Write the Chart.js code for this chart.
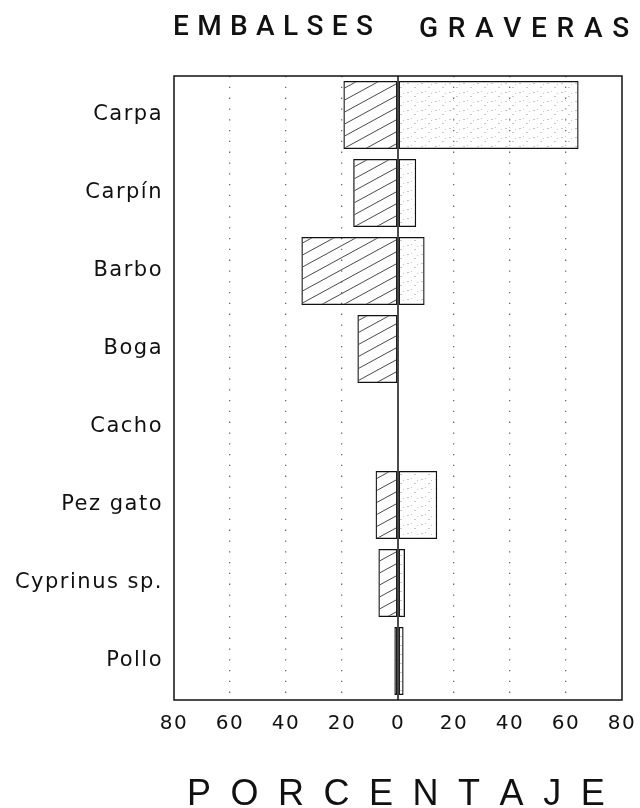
<!DOCTYPE html>
<html>
<head>
<meta charset="utf-8">
<script src="https://cdn.jsdelivr.net/npm/chart.js@4/dist/chart.umd.min.js"></script>
<style>
  body { margin: 0; background: #fff; }
  #wrap { width: 640px; height: 808px; }
</style>
</head>
<body>
<div id="wrap"><canvas id="myChart" width="640" height="808"></canvas></div>
<script>
// data
var especies = ['Carpa', 'Carpín', 'Barbo', 'Boga', 'Cacho', 'Pez gato', 'Cyprinus sp.', 'Pollo'];
var embalses = [-19.5, -16, -34.5, -14.5, -0.3, -8, -7, -1.3];   // left side, %
var graveras = [64.5, 6.5, 9.5, 0, 0.3, 14, 2.5, 2];             // right side, %
var ticksX = [-80, -60, -40, -20, 0, 20, 40, 60, 80];

// hatch "/" for embalses
function hatch() {
  var c = document.createElement('canvas');
  c.width = 22; c.height = 12;
  var g = c.getContext('2d');
  g.strokeStyle = '#333';
  g.lineWidth = 0.9;
  g.beginPath();
  g.moveTo(-22, 24); g.lineTo(22, 0);
  g.moveTo(0, 24); g.lineTo(44, 0);
  g.moveTo(-22, 12); g.lineTo(22, -12);
  g.stroke();
  return g.createPattern(c, 'repeat');
}

// faint stipple for graveras
function stipple() {
  var c = document.createElement('canvas');
  c.width = 14; c.height = 9;
  var g = c.getContext('2d');
  g.fillStyle = '#c8c8c8';
  g.fillRect(1, 2, 2, 1);
  g.fillRect(8, 6, 2, 1);
  g.fillRect(5, 1, 1, 1);
  g.fillRect(11, 3, 1, 1);
  return g.createPattern(c, 'repeat');
}

function spaced(ctx, text, x0, x1, y) {
  var w = ctx.measureText(text).width;
  var gap = (x1 - x0 - w) / (text.length - 1);
  var x = x0;
  ctx.textAlign = 'left';
  for (var i = 0; i < text.length; i++) {
    ctx.fillText(text[i], x, y);
    x += ctx.measureText(text[i]).width + gap;
  }
}

var framePlugin = {
  id: 'frame',
  beforeDraw(chart) {
    chart.ctx.letterSpacing = '1.5px';
  },
  afterDraw(chart) {
    var ctx = chart.ctx, a = chart.chartArea;
    var x0 = chart.scales.x.getPixelForValue(0);
    ctx.save();
    ctx.letterSpacing = '0px';
    ctx.strokeStyle = '#111';
    ctx.lineWidth = 1.5;
    ctx.strokeRect(a.left, a.top, a.right - a.left, a.bottom - a.top);
    ctx.beginPath();
    ctx.moveTo(x0, a.top); ctx.lineTo(x0, a.bottom);
    ctx.stroke();

    ctx.fillStyle = '#111';
    ctx.textBaseline = 'alphabetic';
    ctx.font = '500 28px Roboto, "Liberation Sans", sans-serif';
    spaced(ctx, 'EMBALSES', 173, 373, 35);
    spaced(ctx, 'GRAVERAS', 419, 628, 37);
    ctx.font = '36px "Liberation Sans", sans-serif';
    spaced(ctx, 'PORCENTAJE', 187, 602, 805);
    ctx.restore();
  }
};

var ctx = document.getElementById('myChart');
var myChart = new Chart(ctx, {
  type: 'bar',
  data: {
    labels: especies,
    datasets: [{
      label: 'Embalses',
      data: embalses,
      backgroundColor: hatch(),
      borderColor: '#111',
      borderWidth: 1.3,
      borderSkipped: false
    }, {
      label: 'Graveras',
      data: graveras,
      backgroundColor: stipple(),
      borderColor: '#111',
      borderWidth: 1.3,
      borderSkipped: false
    }]
  },
  options: {
    indexAxis: 'y',
    responsive: false,
    animation: false,
    categoryPercentage: 1,
    barPercentage: 0.87,
    layout: { padding: { top: 76, right: 18, left: 0, bottom: 0 } },
    plugins: { legend: { display: false }, tooltip: { enabled: false } },
    scales: {
      x: {
        stacked: true,
        min: -80, max: 80,
        afterBuildTicks(scale) { scale.ticks = ticksX.map(function (v) { return { value: v }; }); },
        afterFit(scale) {
          scale.height = 108;
          scale.paddingLeft = 0;
          scale.paddingRight = 0;
        },
        ticks: {
          padding: 12,
          color: '#111',
          font: { family: '"DejaVu Sans", sans-serif', size: 20 },
          callback: function (v) { return String(Math.abs(v)); }
        },
        grid: {
          drawTicks: false,
          lineWidth: 1.3,
          color: function (c) {
            var v = c.tick && c.tick.value;
            return (v === -80 || v === 0 || v === 80) ? 'rgba(0,0,0,0)' : '#666';
          }
        },
        border: { display: false, dash: [1.3, 9.5] }
      },
      y: {
        stacked: true,
        afterFit(scale) { scale.width = 174; },
        ticks: {
          padding: 3,
          color: '#111',
          font: { family: '"DejaVu Sans", sans-serif', size: 21 }
        },
        grid: { display: false },
        border: { display: false }
      }
    }
  },
  plugins: [framePlugin]
});
</script>
</body>
</html>
